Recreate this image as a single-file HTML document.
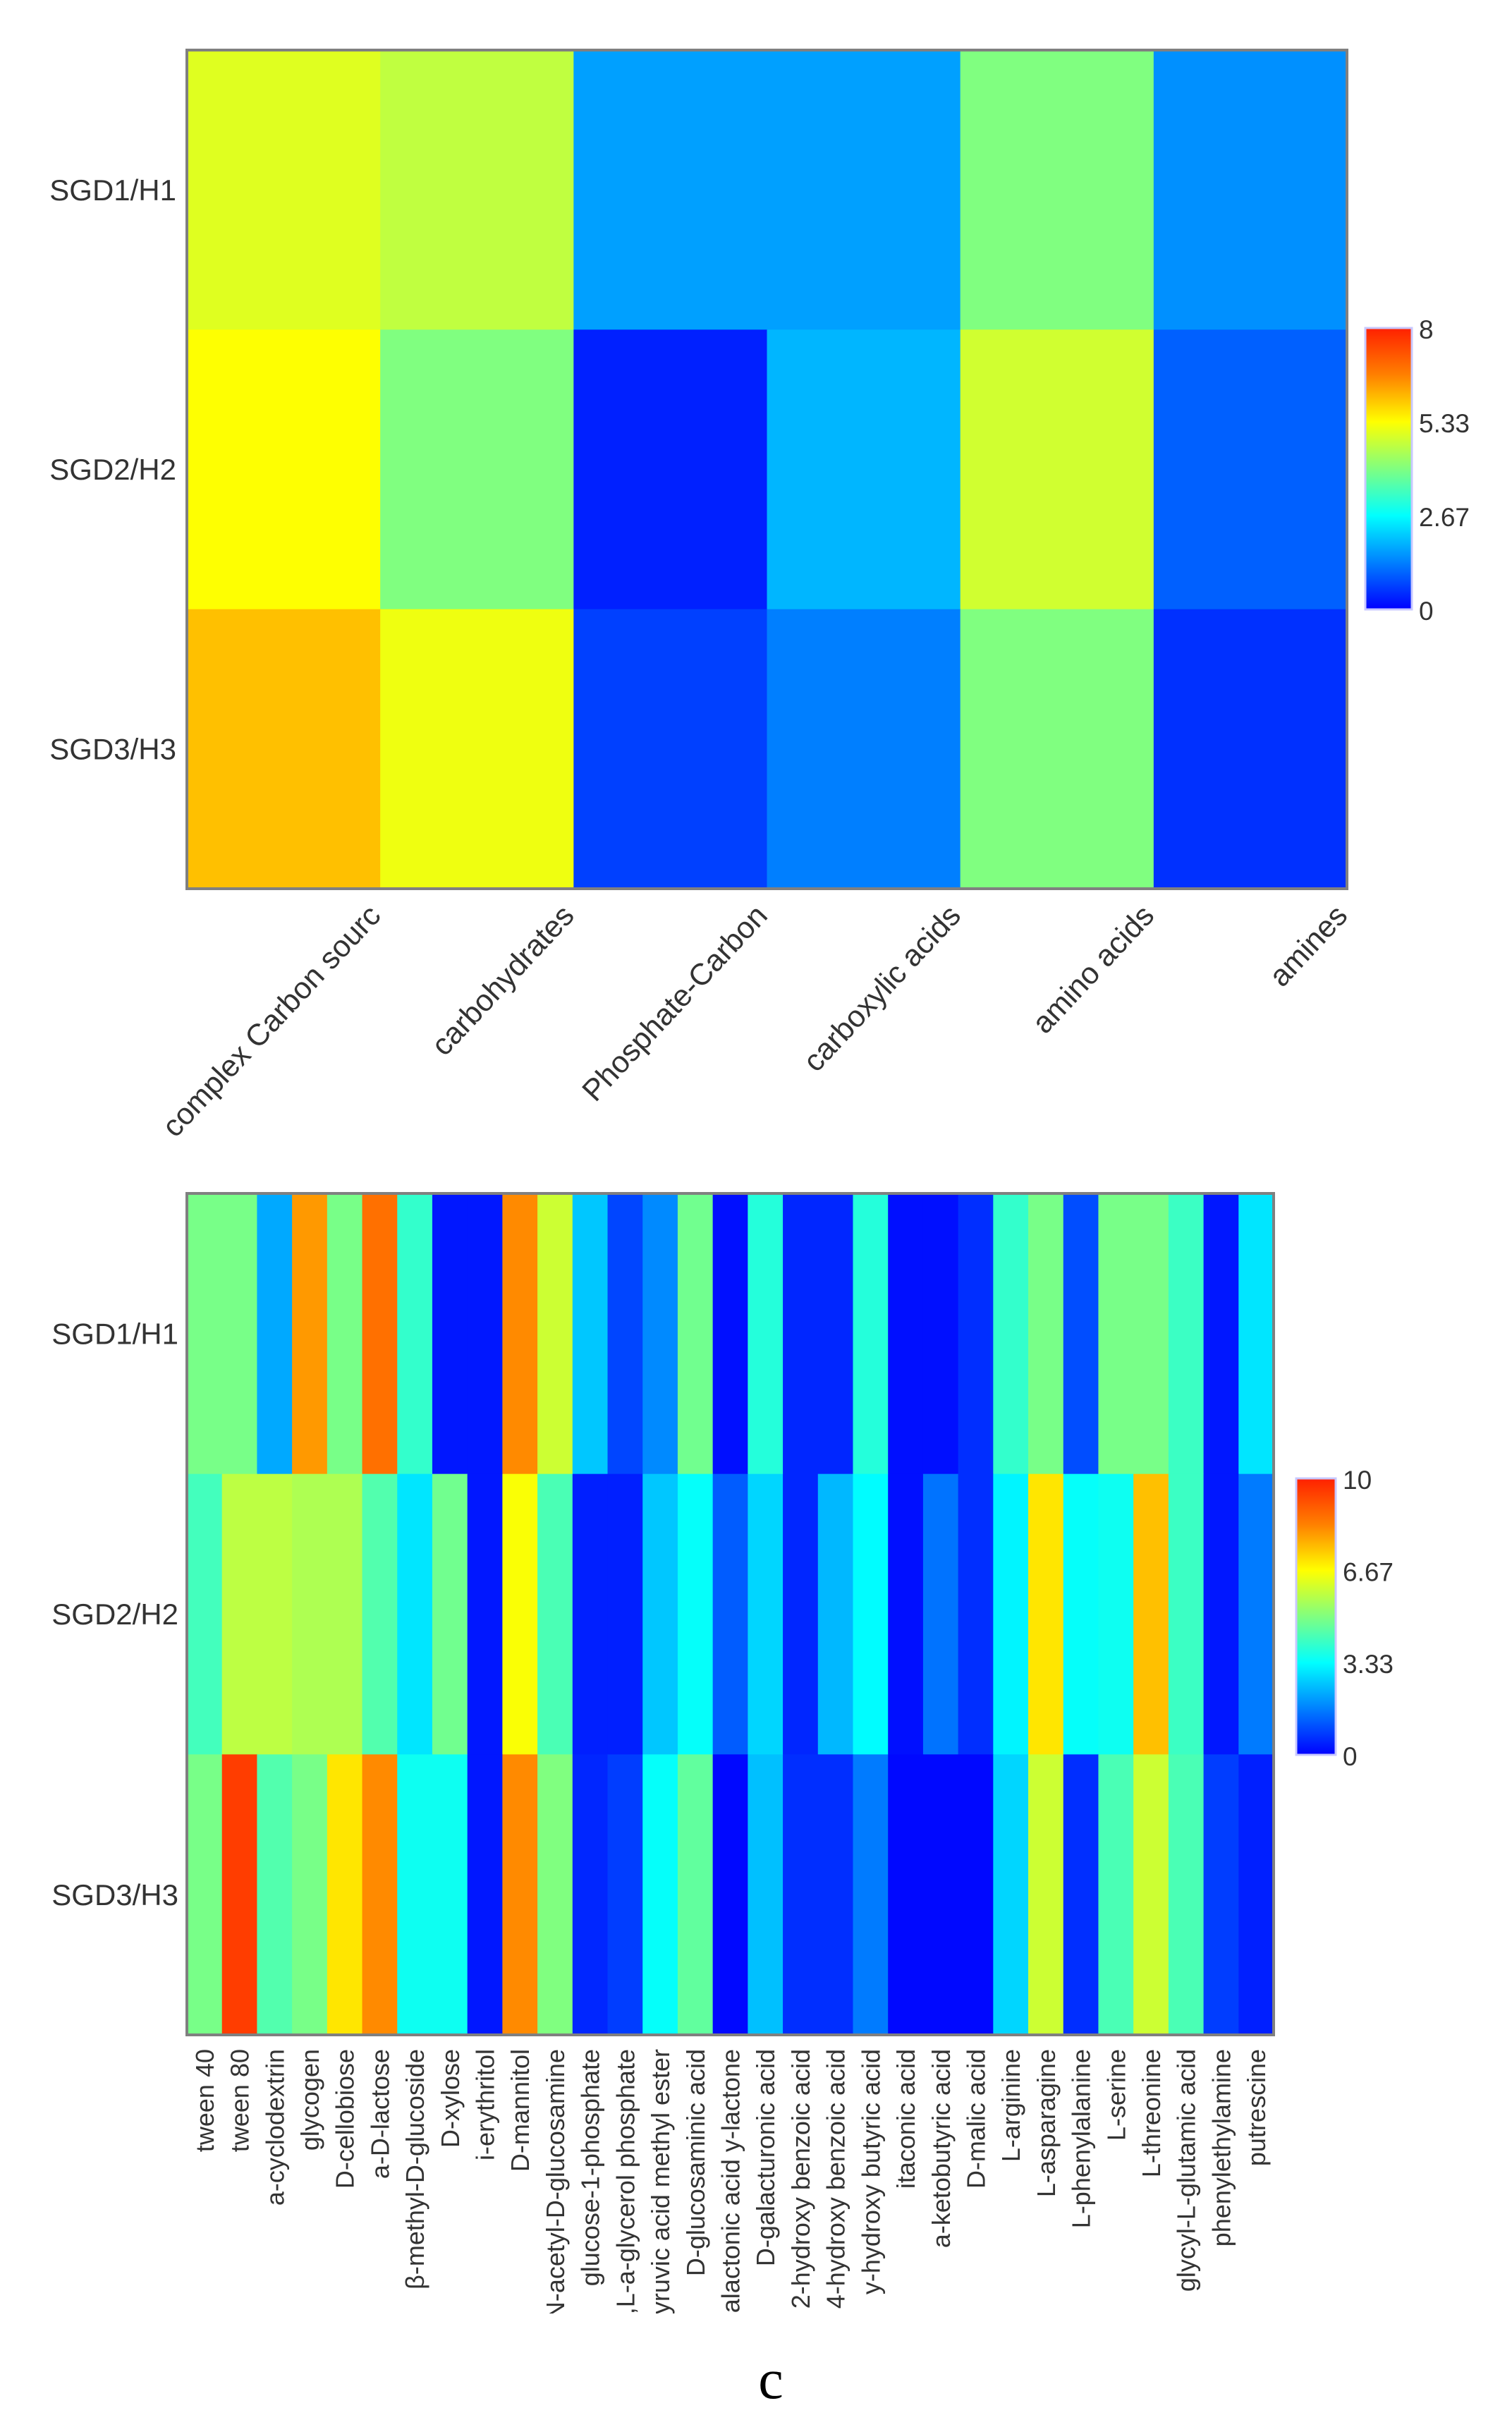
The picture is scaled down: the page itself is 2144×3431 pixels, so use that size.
<!DOCTYPE html>
<html><head><meta charset="utf-8"><style>
html,body{margin:0;padding:0;background:#fff;}
svg{display:block;font-family:"Liberation Sans","DejaVu Sans",sans-serif;}
</style></head><body>
<svg id="root" width="2144" height="3431" viewBox="0 0 2144 3431" xmlns="http://www.w3.org/2000/svg">
<defs>
<linearGradient id="jet" x1="0" y1="1" x2="0" y2="0">
<stop offset="0" stop-color="#0000ff"/><stop offset="0.167" stop-color="#0080ff"/>
<stop offset="0.333" stop-color="#00ffff"/><stop offset="0.5" stop-color="#80ff80"/>
<stop offset="0.667" stop-color="#ffff00"/><stop offset="0.833" stop-color="#ff8000"/>
<stop offset="1" stop-color="#ff2000"/></linearGradient>
<clipPath id="lblclip"><rect x="0" y="2900" width="2144" height="380"/></clipPath>
</defs>
<g id="topHeat"></g>
<g id="botHeat"></g>
<text x="1093" y="3400" font-family="Liberation Serif, serif" font-size="80" text-anchor="middle">c</text>
</svg>
<script>
const rows = ["SGD1/H1","SGD2/H2","SGD3/H3"];
const topCats = ["complex Carbon sourc","carbohydrates","Phosphate-Carbon","carboxylic acids","amino acids","amines"];
const topR1 = [5.0,4.67,1.67,1.67,4.0,1.5];
const topR2 = [5.33,4.0,0.33,1.9,4.84,1.0];
const topR3 = [6.0,5.17,0.67,1.33,4.0,0.5];
const topTicks = ["8","5.33","2.67","0"];
const botCats = ["tween 40","tween 80","a-cyclodextrin","glycogen","D-cellobiose","a-D-lactose","β-methyl-D-glucoside","D-xylose","i-erythritol","D-mannitol","N-acetyl-D-glucosamine","glucose-1-phosphate","D,L-a-glycerol phosphate","pyruvic acid methyl ester","D-glucosaminic acid","D-galactonic acid y-lactone","D-galacturonic acid","2-hydroxy benzoic acid","4-hydroxy benzoic acid","y-hydroxy butyric acid","itaconic acid","a-ketobutyric acid","D-malic acid","L-arginine","L-asparagine","L-phenylalanine","L-serine","L-threonine","glycyl-L-glutamic acid","phenylethylamine","putrescine"];
const botR1 = [4.9,4.9,2.2,8.0,4.9,8.6,4.0,0.3,0.3,8.2,6.0,2.6,0.9,1.8,4.8,0.2,3.8,0.5,0.5,3.8,0.2,0.2,0.6,4.0,4.9,1.0,4.9,4.9,4.1,0.3,3.0];
const botR2 = [4.2,5.8,5.8,5.6,5.6,4.4,3.0,4.8,0.3,6.6,4.3,0.4,0.4,2.6,3.4,1.2,2.8,0.5,2.4,3.3,0.2,1.5,0.6,3.2,7.0,3.4,3.5,7.5,4.1,0.3,1.6];
const botR3 = [4.9,9.5,4.4,4.9,7.0,8.2,3.5,3.5,0.3,8.2,5.0,0.5,0.8,3.4,4.6,0.1,2.5,0.6,0.6,1.6,0.1,0.1,0.1,2.8,6.0,0.6,4.3,6.0,4.3,0.8,0.4];
const botTicks = ["10","6.67","3.33","0"];

const NS="http://www.w3.org/2000/svg";
function mk(tag,attrs,parent){const e=document.createElementNS(NS,tag);for(const k in attrs)e.setAttribute(k,attrs[k]);parent.appendChild(e);return e;}
const stops=[[0,0,0,255],[0.167,0,128,255],[0.333,0,255,255],[0.5,128,255,128],[0.667,255,255,0],[0.833,255,128,0],[1,255,32,0]];
function jet(t){t=Math.max(0,Math.min(1,t));for(let i=1;i<stops.length;i++){if(t<=stops[i][0]){const a=stops[i-1],b=stops[i],f=(t-a[0])/(b[0]-a[0]);return `rgb(${Math.round(a[1]+f*(b[1]-a[1]))},${Math.round(a[2]+f*(b[2]-a[2]))},${Math.round(a[3]+f*(b[3]-a[3]))})`;}}return "rgb(255,32,0)";}

function heat(g,cfg){
  const {x0,x1,y0,y1,cats,data,vmax,ticks,cb,ylx,fs}=cfg;
  const cw=(x1-x0)/cats.length, rh=(y1-y0)/rows.length;
  const xs=i=>x0+i*cw, ys=j=>y0+j*rh;
  data.forEach((arr,j)=>arr.forEach((v,i)=>{
    const r=mk("rect",{x:xs(i),y:ys(j),width:cw+0.6,height:rh+0.6,fill:jet(v/vmax)},g);
    
    
  }));
  const fr=mk("rect",{x:x0,y:y0,width:x1-x0,height:y1-y0,fill:"none",stroke:"#808080","stroke-width":4},g);
  
  
  rows.forEach((r,j)=>{const t=mk("text",{x:ylx,y:ys(j)+rh/2+fs*0.35,"font-size":fs,"text-anchor":"end",fill:"#333"},g);t.textContent=r;
    
    });
  const c=mk("rect",{x:cb.x,y:cb.y0,width:cb.w,height:cb.y1-cb.y0,fill:"url(#jet)",stroke:"#c8c8ff","stroke-width":3},g);
  
  
  ticks.forEach((tk,k)=>{const y=cb.y0+k*(cb.y1-cb.y0)/(ticks.length-1);
    const t=mk("text",{x:cb.x+cb.w+10,y:y+cb.fs*0.4,"font-size":cb.fs,fill:"#333"},g);t.textContent=tk;
    
    });
  return {cw,xs};
}
const topG=document.getElementById('topHeat');
const T=heat(topG,{x0:265,x1:1910,y0:71,y1:1260,cats:topCats,data:[topR1,topR2,topR3],vmax:8,ticks:topTicks,
  cb:{x:1936,w:66,y0:465,y1:864,fs:37},ylx:250,fs:42});
topCats.forEach((c,i)=>{const x=T.xs(i)+T.cw/2+140,y=1300;
  const t=mk("text",{x:x,y:y,"font-size":43,"text-anchor":"end",fill:"#333",transform:`rotate(-47 ${x} ${y})`},topG);t.textContent=c;
  
  });
const botG=document.getElementById('botHeat');
const B=heat(botG,{x0:265,x1:1806,y0:1692,y1:2885,cats:botCats,data:[botR1,botR2,botR3],vmax:10,ticks:botTicks,
  cb:{x:1838,w:56,y0:2096,y1:2488,fs:37},ylx:253,fs:42});
const lg=mk("g",{"clip-path":"url(#lblclip)"},botG);
botCats.forEach((c,i)=>{const x=B.xs(i)+B.cw/2+13,y=2905;
  const t=mk("text",{x:x,y:y,"font-size":36,"text-anchor":"end",fill:"#333",transform:`rotate(-90 ${x} ${y})`},lg);t.textContent=c;
  
  });
</script>
</body></html>
